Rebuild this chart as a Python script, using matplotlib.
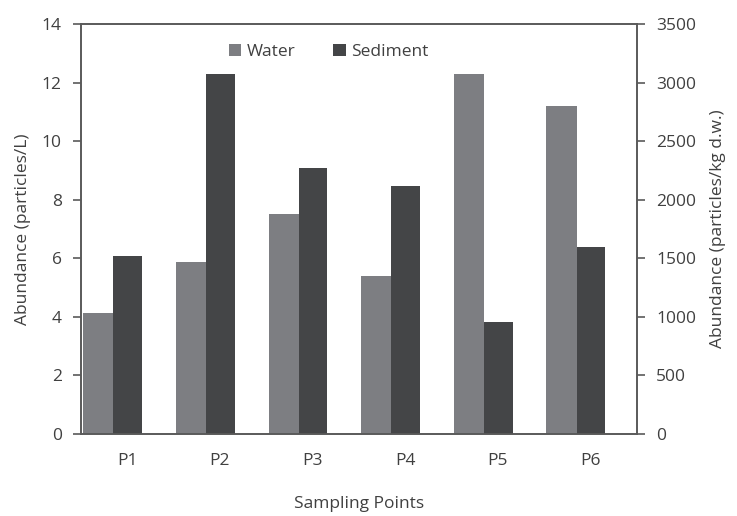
import matplotlib
matplotlib.use('Agg')
import matplotlib.pyplot as plt
import numpy as np

points = ['P1', 'P2', 'P3', 'P4', 'P5', 'P6']
water = [4.14, 5.88, 7.53, 5.39, 12.29, 11.22]          # particles/L
sediment = [1520, 3079, 2273, 2117, 959, 1599]          # particles/kg d.w.

plt.rcParams['font.family'] = ['Open Sans', 'DejaVu Sans']
text_col = '#404040'
spine_col = '#5a5a5a'

fig = plt.figure(figsize=(7.37, 5.16), dpi=100)
ax = fig.add_axes([0.110, 0.159, 0.754, 0.794])
ax2 = ax.twinx()

x = np.arange(len(points))
w = 0.325
ax.bar(x - 0.475, water, width=w, align='edge', color='#7d7e82', label='Water')
ax2.bar(x - 0.15, sediment, width=w - 0.015, align='edge', color='#444547', label='Sediment')

ax.set_xlim(-0.5, 5.5)
ax.set_ylim(0, 14)
ax.set_yticks(range(0, 15, 2))
ax2.set_ylim(0, 3500)
ax2.set_yticks(range(0, 3501, 500))
ax.set_xticks(x)
ax.set_xticklabels(points)

for a in (ax, ax2):
    for s in a.spines.values():
        s.set_color(spine_col)
        s.set_linewidth(1.2)
    a.tick_params(colors=text_col, labelsize=12.5, length=6, width=1.2)
    a.tick_params(axis='y', color=spine_col)
ax.tick_params(axis='x', length=0, pad=14)
ax.tick_params(axis='y', pad=8)
ax2.tick_params(axis='y', pad=8)

ax.set_xlabel('Sampling Points', fontsize=12.5, color=text_col, labelpad=19)
ax.set_ylabel('Abundance (particles/L)', fontsize=12.5, color=text_col, labelpad=8)
ax2.set_ylabel('Abundance (particles/kg d.w.)', fontsize=12.5, color=text_col, labelpad=10)

h1, l1 = ax.get_legend_handles_labels()
h2, l2 = ax2.get_legend_handles_labels()
fig.legend(h1 + h2, l1 + l2, loc='center', bbox_to_anchor=(0.446, 0.9), ncol=2,
           frameon=False, fontsize=12.5, handlelength=0.7, handleheight=0.7,
           handletextpad=0.3, columnspacing=2.2, labelcolor=text_col)

fig.savefig('out.png', dpi=100)
